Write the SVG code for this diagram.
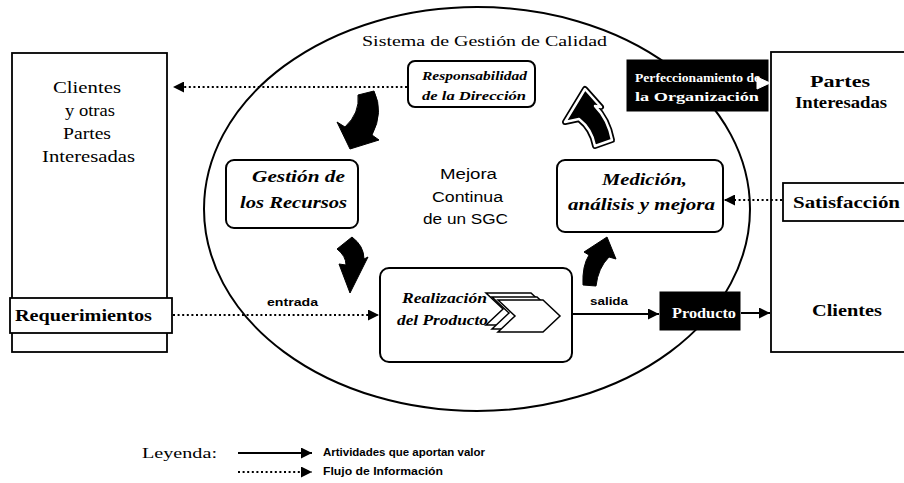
<svg xmlns="http://www.w3.org/2000/svg" width="904" height="483" viewBox="0 0 904 483">
<defs>
<marker id="ah" viewBox="0 0 10 10" refX="10" refY="5" markerUnits="userSpaceOnUse" markerWidth="13" markerHeight="11" orient="auto"><path d="M0,0 L10,5 L0,10 Z" fill="#000"/></marker>
<style>
.box{fill:#fff;stroke:#000;stroke-width:1.8}
.rbox{fill:#fff;stroke:#000;stroke-width:2}
.dark{fill:#000;stroke:#000;stroke-width:1}
.sol{stroke:#000;stroke-width:2;fill:none}
.dot{stroke:#000;stroke-width:2.2;stroke-dasharray:2 2.6;fill:none}
.blk{fill:#000;stroke:#000;stroke-width:1}
.t{font-family:"Liberation Serif","Times New Roman",serif;fill:#000}
.tb{font-family:"Liberation Serif","Times New Roman",serif;font-weight:bold;fill:#000}
.tbi{font-family:"Liberation Serif","Times New Roman",serif;font-weight:bold;font-style:italic;fill:#000}
.s{font-family:"Liberation Sans",Arial,sans-serif;fill:#000}
.sb{font-family:"Liberation Sans",Arial,sans-serif;font-weight:bold;fill:#000}
.w{fill:#fff}
.chev{fill:#fff;stroke:#000;stroke-width:1.5}
</style>
</defs>
<rect width="904" height="483" fill="#fff"/>

<g id="sgc">
<ellipse cx="477" cy="209" rx="273" ry="202" fill="none" stroke="#000" stroke-width="2"/>
<text class="t" x="362" y="46" font-size="15" textLength="245" lengthAdjust="spacingAndGlyphs">Sistema de Gestión de Calidad</text>
</g>

<g id="clientes-otras">
<rect class="box" x="12" y="53" width="155" height="299"/>
<text class="t" x="53" y="93" font-size="17" textLength="68" lengthAdjust="spacingAndGlyphs">Clientes</text>
<text class="t" x="65" y="116" font-size="17" textLength="50" lengthAdjust="spacingAndGlyphs">y otras</text>
<text class="t" x="63" y="139" font-size="17" textLength="48" lengthAdjust="spacingAndGlyphs">Partes</text>
<text class="t" x="42" y="162" font-size="17" textLength="93" lengthAdjust="spacingAndGlyphs">Interesadas</text>
</g>

<g id="requerimientos">
<rect class="box" x="10" y="298" width="162" height="35"/>
<text class="tb" x="15" y="321" font-size="17" textLength="137" lengthAdjust="spacingAndGlyphs">Requerimientos</text>
</g>

<g id="partes-interesadas">
<rect class="box" x="771" y="52" width="150" height="300"/>
<text class="tb" x="810" y="87" font-size="16" textLength="60" lengthAdjust="spacingAndGlyphs">Partes</text>
<text class="tb" x="795" y="108" font-size="16" textLength="92" lengthAdjust="spacingAndGlyphs">Interesadas</text>
<text class="tb" x="812" y="316" font-size="16" textLength="70" lengthAdjust="spacingAndGlyphs">Clientes</text>
</g>

<g id="satisfaccion">
<rect class="box" x="783" y="183" width="130" height="38"/>
<text class="tb" x="793" y="208" font-size="17" textLength="107" lengthAdjust="spacingAndGlyphs">Satisfacción</text>
</g>

<g id="responsabilidad">
<rect class="rbox" x="408" y="61" width="127" height="46" rx="7"/>
<text class="tbi" x="422" y="80" font-size="12.5" textLength="105" lengthAdjust="spacingAndGlyphs">Responsabilidad</text>
<text class="tbi" x="422" y="100" font-size="12.5" textLength="104" lengthAdjust="spacingAndGlyphs">de la Dirección</text>
</g>

<g id="perfeccionamiento">
<rect class="dark" x="627" y="60" width="141" height="51"/>
<text class="tb w" x="635" y="82" font-size="13" textLength="125" lengthAdjust="spacingAndGlyphs">Perfeccionamiento de</text>
<text class="tb w" x="635" y="101" font-size="13" textLength="124" lengthAdjust="spacingAndGlyphs">la Organización</text>
</g>

<g id="gestion-recursos">
<rect class="rbox" x="226" y="160" width="132" height="68" rx="8"/>
<text class="tbi" x="252" y="182" font-size="17" textLength="93" lengthAdjust="spacingAndGlyphs">Gestión de</text>
<text class="tbi" x="240" y="208" font-size="17" textLength="107" lengthAdjust="spacingAndGlyphs">los Recursos</text>
</g>

<g id="mejora-continua">
<text class="s" x="440" y="179" font-size="14" textLength="57" lengthAdjust="spacingAndGlyphs">Mejora</text>
<text class="s" x="432" y="202" font-size="14" textLength="71" lengthAdjust="spacingAndGlyphs">Continua</text>
<text class="s" x="423" y="224" font-size="14" textLength="85" lengthAdjust="spacingAndGlyphs">de un SGC</text>
</g>

<g id="medicion">
<rect class="rbox" x="557" y="160" width="166" height="72" rx="8"/>
<text class="tbi" x="602" y="185" font-size="17" textLength="85" lengthAdjust="spacingAndGlyphs">Medición,</text>
<text class="tbi" x="568" y="210" font-size="17" textLength="147" lengthAdjust="spacingAndGlyphs">análisis y mejora</text>
</g>

<g id="realizacion">
<rect class="rbox" x="380" y="268" width="192" height="94" rx="9"/>
<polygon class="chev" points="486,293 531,293 548,309 531,325 486,325 503,309"/>
<polygon class="chev" points="492,297 537,297 554,313 537,329 492,329 509,313"/>
<polygon class="chev" points="498,300 543,300 560,316 543,332 498,332 515,316"/>
<text class="tbi" x="402" y="303" font-size="14" textLength="85" lengthAdjust="spacingAndGlyphs">Realización</text>
<text class="tbi" x="397" y="325" font-size="14" textLength="91" lengthAdjust="spacingAndGlyphs">del Producto</text>
</g>

<g id="producto">
<rect class="dark" x="660" y="292" width="80" height="38"/>
<text class="tb w" x="672" y="318" font-size="15" textLength="64" lengthAdjust="spacingAndGlyphs">Producto</text>
</g>

<g id="connectors">
<line class="dot" x1="407" y1="87" x2="173" y2="87" marker-end="url(#ah)"/>
<line class="dot" x1="782" y1="200" x2="724" y2="200" marker-end="url(#ah)"/>
<line class="dot" x1="173" y1="315" x2="379" y2="315" marker-end="url(#ah)"/>
<line class="sol" x1="573" y1="314" x2="659" y2="314" marker-end="url(#ah)"/>
<line class="sol" x1="741" y1="313" x2="770" y2="313" marker-end="url(#ah)"/>
<path d="M757,77 L770,83 L757,89 Z" fill="#fff" stroke="#fff" stroke-width="1"/>
<text class="sb" x="267" y="306" font-size="11" textLength="51" lengthAdjust="spacingAndGlyphs">entrada</text>
<text class="sb" x="590" y="305" font-size="11" textLength="38" lengthAdjust="spacingAndGlyphs">salida</text>
<path class="blk" d="M358,95 L374,91 Q384,112 372,135 L379,140 L350,149 L337,122 L345,127 Q360,113 358,95 Z"/>
<path class="blk" d="M337,249 L352,237 Q364,246 364,259 L368,257 L350,293 L339,264 L346,265 Q346,256 337,249 Z"/>
<path class="blk" d="M583,285 Q582,266 589,255 L584,252 L607,237 L616,259 L609,257 Q598,268 596,286 Z"/>
<path d="M585,89 L601,107 L595,106 Q608,119 612,140 L595,146 Q592,129 579,119 L565,122 Z" fill="#000" stroke="#000" stroke-width="6" stroke-linejoin="round"/>
<path d="M585,89 L601,107 L595,106 Q608,119 612,140 L595,146 Q592,129 579,119 L565,122 Z" fill="#000" stroke="#fff" stroke-width="2.5" stroke-linejoin="round"/>
</g>

<g id="legend">
<text class="t" x="142" y="458" font-size="15" textLength="75" lengthAdjust="spacingAndGlyphs">Leyenda:</text>
<line class="sol" x1="238" y1="453" x2="312" y2="453" marker-end="url(#ah)"/>
<line class="dot" x1="238" y1="472" x2="312" y2="472" marker-end="url(#ah)"/>
<text class="sb" x="323" y="456" font-size="11" textLength="162" lengthAdjust="spacingAndGlyphs">Artividades que aportan valor</text>
<text class="sb" x="323" y="475" font-size="11" textLength="120" lengthAdjust="spacingAndGlyphs">Flujo de Información</text>
</g>
</svg>
